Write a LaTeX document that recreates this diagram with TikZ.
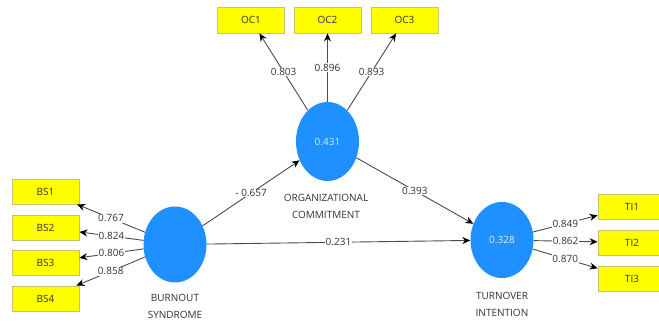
\documentclass[tikz,border=0pt]{standalone}
\usepackage{fontspec}
\setmainfont{Open Sans}
\usetikzlibrary{arrows.meta,shapes.geometric}
\definecolor{latentblue}{RGB}{30,144,255}
\definecolor{itemyellow}{RGB}{255,255,0}
\definecolor{itemborder}{RGB}{196,196,110}
\definecolor{labelgray}{RGB}{50,50,50}
\definecolor{linegray}{RGB}{75,75,75}
\begin{document}
\begin{tikzpicture}[x=1pt,y=-1pt,
  font=\fontsize{10}{12}\selectfont,
  indicator/.style={rectangle,fill=itemyellow,draw=itemborder,line width=0.8pt,
    minimum width=67pt,minimum height=25pt,inner sep=0pt,text=labelgray},
  latent/.style={ellipse,fill=latentblue,draw=none,minimum width=63pt,
    minimum height=76pt,inner sep=0pt,text=white!85!latentblue},
  caption/.style={align=center,text=labelgray,font=\fontsize{10}{16.5}\selectfont},
  path link/.style={draw=linegray,line width=0.9pt,-{Stealth[black,length=8pt,width=7pt]}},
  weight/.style={fill=white,inner sep=0.6pt,text=labelgray,pos=0.5}]
\useasboundingbox (0,0) rectangle (659,323);
\fill[white] (0,0) rectangle (659,323);

% latent constructs
\node[latent] (bo) at (175,244.5) {};
\node[latent,minimum height=79pt] (oc) at (327.5,141.5) {0.431};
\node[latent] (ti) at (502,240) {0.328};

\node[caption] (bocap) at (175,306.5) {BURNOUT\\SYNDROME};
\node[caption] (occap) at (326,206.5) {ORGANIZATIONAL\\COMMITMENT};
\node[caption] (ticap) at (502,304.5) {TURNOVER\\INTENTION};

% indicators
\node[indicator] (bs1) at (45.5,191.5) {BS1};
\node[indicator] (bs2) at (45.5,227.5) {BS2};
\node[indicator] (bs3) at (45.5,262.5) {BS3};
\node[indicator] (bs4) at (45.5,298.5) {BS4};

\node[indicator,minimum height=26pt] (oc1) at (251,20) {OC1};
\node[indicator,minimum height=26pt] (oc2) at (327.5,20) {OC2};
\node[indicator,minimum height=26pt] (oc3) at (404.5,20) {OC3};

\node[indicator,minimum width=68pt] (ti1) at (632,206.5) {TI1};
\node[indicator,minimum width=68pt] (ti2) at (632,242.5) {TI2};
\node[indicator,minimum width=68pt] (ti3) at (632,278.5) {TI3};

% outer loadings
\draw[path link] (bo) -- node[weight]{0.767} (bs1);
\draw[path link] (bo) -- node[weight]{0.824} (bs2);
\draw[path link] (bo) -- node[weight]{0.806} (bs3);
\draw[path link] (bo) -- node[weight]{0.858} (bs4);

\draw[path link] (oc) -- node[weight]{0.803} (oc1);
\draw[path link] (oc) -- node[weight]{0.896} (oc2);
\draw[path link] (oc) -- node[weight]{0.893} (oc3);

\draw[path link] (ti) -- node[weight]{0.849} (ti1);
\draw[path link] (ti) -- node[weight]{0.862} (ti2);
\draw[path link] (ti) -- node[weight]{0.870} (ti3);

% structural paths
\draw[path link] (bo) -- node[weight]{- 0.657} (oc);
\draw[path link] (oc) -- node[weight]{0.393} (ti);
\draw[path link] (bo) -- node[weight]{0.231} (ti);
\end{tikzpicture}
\end{document}
